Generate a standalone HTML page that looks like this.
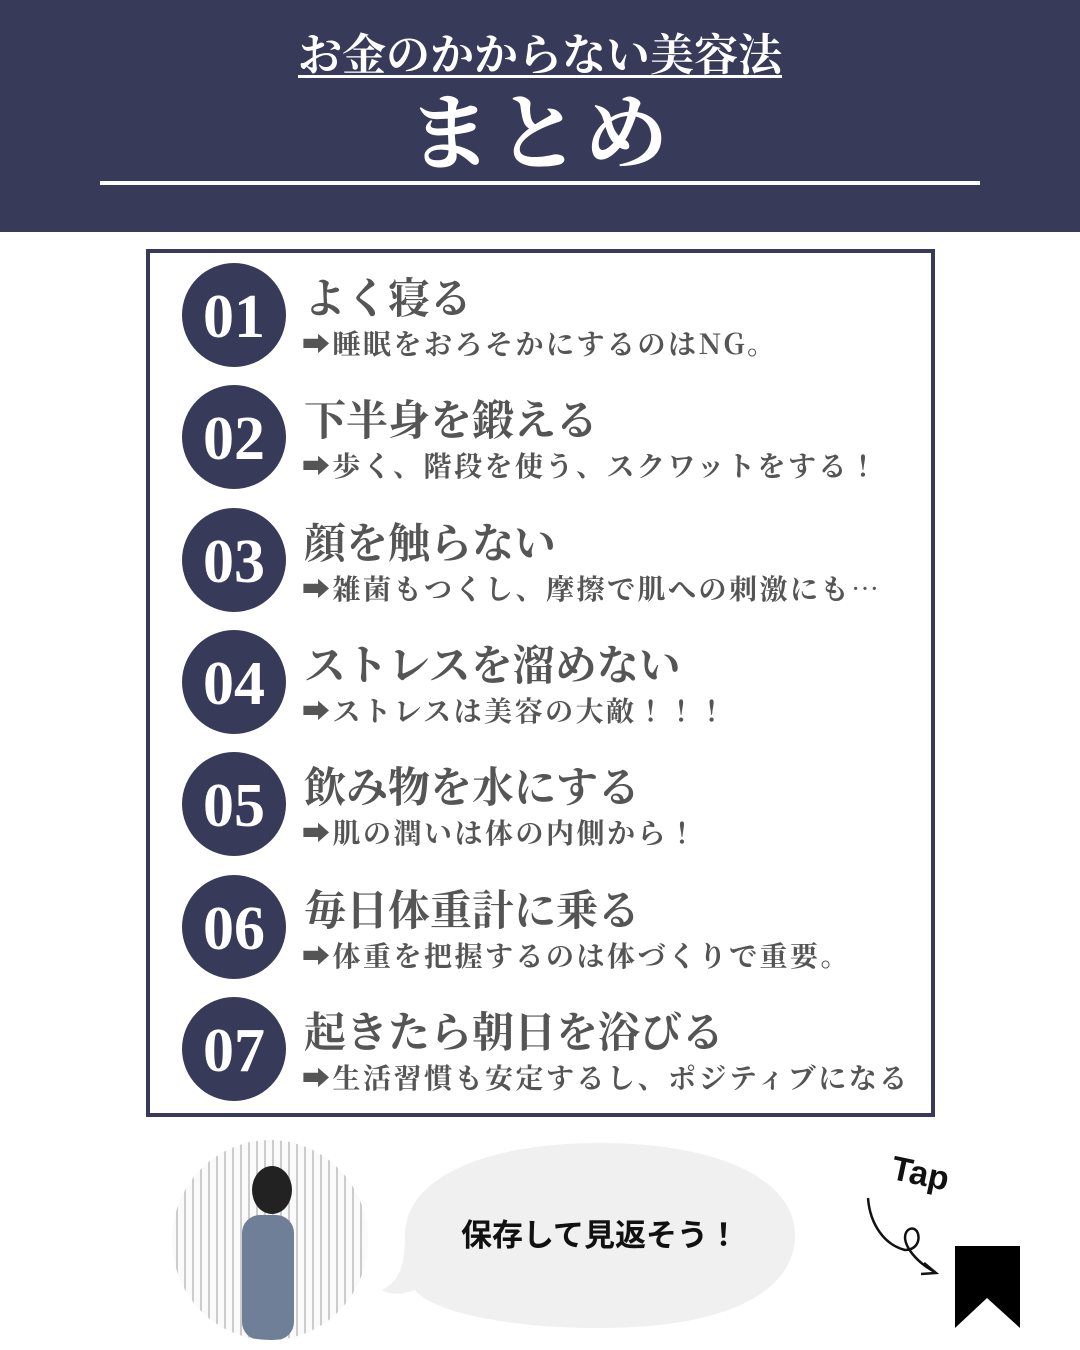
<!DOCTYPE html>
<html><head><meta charset="utf-8"><style>
*{margin:0;padding:0;box-sizing:border-box}
body{width:1080px;height:1350px;background:#fff;position:relative;overflow:hidden;font-family:"Liberation Serif","Noto Serif CJK SC",serif}
.hdr{position:absolute;left:0;top:0;width:1080px;height:232px;background:#383a59}
.t1{position:absolute;left:0;width:1080px;top:28px;text-align:center;color:#fff;font-size:44px;font-weight:bold;line-height:56px;text-decoration:underline;text-decoration-thickness:3px;text-underline-offset:5px}
.t2{position:absolute;left:0;width:1080px;top:86px;text-align:center;color:#fff;font-size:84px;font-weight:bold;line-height:100px;letter-spacing:4px}
.line{position:absolute;left:100px;top:181px;width:880px;height:4px;background:#fff}
.box{position:absolute;left:146px;top:249px;width:789px;height:868px;border:4px solid #383a59}
.c{position:absolute;left:182px;width:104px;height:104px;border-radius:50%;background:#383a59;color:#fff;font-size:62px;font-weight:bold;text-align:center;line-height:108px;font-family:"Liberation Serif",serif}
.ti{position:absolute;left:304px;font-size:42px;font-weight:bold;color:#555;line-height:50px;white-space:nowrap;font-family:"Noto Serif CJK JP",serif}
.su{position:absolute;left:302px;font-size:28px;font-weight:bold;color:#555;line-height:34px;white-space:nowrap;font-family:"Noto Serif CJK JP",serif;letter-spacing:2.5px}
</style></head><body>
<div class="hdr"></div>
<div class="t1">お金のかからない美容法</div>
<div class="t2">まとめ</div>
<div class="line"></div>
<div class="box"></div>

<div class="c" style="top:263px">01</div>
<div class="ti" style="top:271px">よく寝る</div>
<div class="su" style="top:326px">➡睡眠をおろそかにするのはNG。</div>

<div class="c" style="top:385px">02</div>
<div class="ti" style="top:393px">下半身を鍛える</div>
<div class="su" style="top:448px">➡歩く、階段を使う、スクワットをする！</div>

<div class="c" style="top:508px">03</div>
<div class="ti" style="top:516px">顔を触らない</div>
<div class="su" style="top:571px">➡雑菌もつくし、摩擦で肌への刺激にも…</div>

<div class="c" style="top:630px">04</div>
<div class="ti" style="top:638px">ストレスを溜めない</div>
<div class="su" style="top:693px">➡ストレスは美容の大敵！！！</div>

<div class="c" style="top:752px">05</div>
<div class="ti" style="top:760px">飲み物を水にする</div>
<div class="su" style="top:815px">➡肌の潤いは体の内側から！</div>

<div class="c" style="top:875px">06</div>
<div class="ti" style="top:883px">毎日体重計に乗る</div>
<div class="su" style="top:938px">➡体重を把握するのは体づくりで重要。</div>

<div class="c" style="top:997px">07</div>
<div class="ti" style="top:1005px">起きたら朝日を浴びる</div>
<div class="su" style="top:1060px">➡生活習慣も安定するし、ポジティブになる</div>

<svg style="position:absolute;left:0;top:0" width="1080" height="1350">
<defs><clipPath id="cp"><ellipse cx="270" cy="1240" rx="98" ry="100"/></clipPath>
<pattern id="st" width="8" height="8" patternUnits="userSpaceOnUse"><rect width="8" height="8" fill="#fafafa"/><rect width="2" height="8" fill="#ccc"/></pattern></defs>
<g clip-path="url(#cp)">
<rect x="170" y="1138" width="200" height="204" fill="url(#st)"/>
<ellipse cx="272" cy="1190" rx="20" ry="24" fill="#222"/>
<rect x="242" y="1215" width="52" height="125" rx="18" fill="#6f7f97"/>
</g>
<path d="M600 1143 C720 1143 795 1180 795 1235 C795 1295 720 1328 600 1328 C500 1328 430 1310 415 1290 C400 1295 390 1295 382 1290 C398 1282 405 1268 405 1235 C405 1180 480 1143 600 1143 Z" fill="#f0f0f0"/>
<text x="600" y="1246" text-anchor="middle" font-family="Liberation Sans,Noto Sans CJK JP,sans-serif" font-weight="bold" font-size="31" fill="#111">保存して見返そう！</text>
<text x="890" y="1185" font-family="Liberation Sans,sans-serif" font-weight="bold" font-size="34" fill="#111" transform="rotate(12 920 1180)">Tap</text>
<path d="M868 1198 C870 1225 885 1245 905 1250 C925 1250 920 1222 908 1230 C898 1240 915 1262 935 1272" fill="none" stroke="#111" stroke-width="2.5"/>
<path d="M924 1263 L936 1273 L921 1274" fill="none" stroke="#111" stroke-width="2.5"/>
<path d="M955 1246 H1020 V1328 L987 1298 L955 1328 Z" fill="#000"/>
</svg>
</body></html>
